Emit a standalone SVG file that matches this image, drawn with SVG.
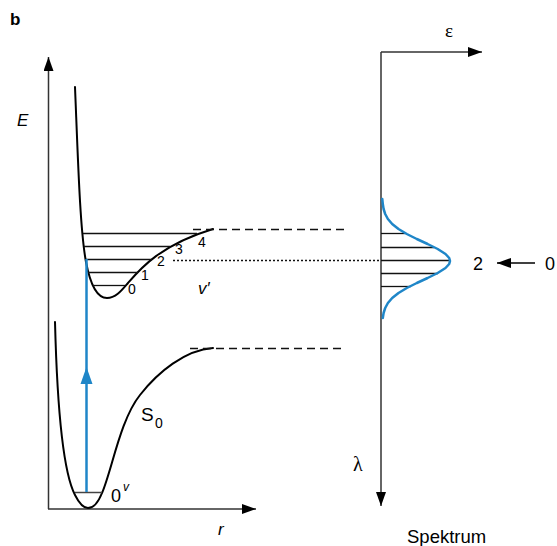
<svg xmlns="http://www.w3.org/2000/svg" width="557" height="546" viewBox="0 0 557 546">
<defs>
<style>
.ax{stroke:#333;stroke-width:1.5;fill:none}
.cv{stroke:#000;stroke-width:2;fill:none;stroke-linecap:round}
.lv{stroke:#111;stroke-width:1.3}
.bl{stroke:#1f86c8;stroke-width:2.5;fill:none}
.dash{stroke:#111;stroke-width:1.3;stroke-dasharray:8,5}
.dot{stroke:#111;stroke-width:1.3;stroke-dasharray:2,2}
.t{font-family:"Liberation Sans",Arial,sans-serif;fill:#000}
.s{font-family:"Liberation Serif","Times New Roman",serif;fill:#000}
</style>
<marker id="ah" markerWidth="14" markerHeight="10" refX="14" refY="5" orient="auto" markerUnits="userSpaceOnUse">
<path d="M0,0 L14,5 L0,10 Z" fill="#000"/>
</marker>
</defs>

<text class="t" x="10" y="25" font-size="17" font-weight="bold">b</text>

<g id="axes">
<line class="ax" x1="48.5" y1="509" x2="48.5" y2="57" marker-end="url(#ah)"/>
<line class="ax" x1="48" y1="509" x2="256" y2="509" marker-end="url(#ah)"/>
<text class="t" x="17" y="126" font-size="17" font-style="italic">E</text>
<text class="t" x="218" y="535" font-size="17" font-style="italic">r</text>
</g>

<g id="excited-state">
<path class="cv" d="M75,87 C78,160 80,230 86,262 C90,283 97,298 107,298 C116,298 122,290 128,283 C140,269 160,245 213,229"/>
<line class="lv" x1="83" y1="233.5" x2="197" y2="233.5"/>
<line class="lv" x1="84" y1="246.5" x2="170" y2="246.5"/>
<line class="lv" x1="86" y1="259.5" x2="152" y2="259.5"/>
<line class="lv" x1="88" y1="272.5" x2="138" y2="272.5"/>
<line class="lv" x1="93" y1="285.5" x2="125" y2="285.5"/>
<text class="t" x="128" y="294" font-size="14">0</text>
<text class="t" x="141" y="280" font-size="14">1</text>
<text class="t" x="157" y="266" font-size="14">2</text>
<text class="t" x="175" y="254" font-size="14">3</text>
<text class="t" x="198" y="247" font-size="14">4</text>
<text class="t" x="198" y="294" font-size="17" font-style="italic">v′</text>
</g>

<g id="ground-state">
<path class="cv" d="M55,322 C57,400 62,470 75,495 C80,505 84,508 88,508 C94,508 98,503 102,493 C112,470 120,420 140,395 C158,372 185,350 213,348"/>
<line x1="75" y1="492.5" x2="102" y2="492.5" stroke="#444" stroke-width="1.5"/>
<text class="t" x="111" y="502" font-size="18">0</text>
<text class="t" x="123" y="491" font-size="12" font-style="italic">v</text>
<text class="t" x="141" y="421" font-size="19">S</text>
<text class="t" x="155" y="428" font-size="14">0</text>
</g>

<g id="connectors">
<line class="bl" x1="86.5" y1="492" x2="86.5" y2="259"/>
<path d="M86.5,367 L80.5,384 L92.5,384 Z" fill="#1f86c8"/>
<line class="dash" x1="193" y1="229.5" x2="347" y2="229.5"/>
<line class="dash" x1="190" y1="348.5" x2="345" y2="348.5"/>
<line class="dot" x1="173" y1="260.5" x2="381" y2="260.5"/>
<line stroke="#000" stroke-width="1.5" x1="535" y1="263" x2="497" y2="263" marker-end="url(#ah)"/>
</g>

<g id="spectrum">
<line class="ax" x1="381" y1="52" x2="381" y2="506" marker-end="url(#ah)"/>
<line class="ax" x1="381" y1="52" x2="482" y2="52" marker-end="url(#ah)"/>
<text class="s" x="445" y="37" font-size="19">ε</text>
<text class="s" x="353" y="471" font-size="20">λ</text>
<text class="t" x="407" y="543" font-size="18.5">Spektrum</text>
<line class="lv" x1="381" y1="233.5" x2="405" y2="233.5"/>
<line class="lv" x1="381" y1="247.5" x2="434" y2="247.5"/>
<line class="lv" x1="381" y1="260.5" x2="450" y2="260.5"/>
<line class="lv" x1="381" y1="273.5" x2="438" y2="273.5"/>
<line class="lv" x1="381" y1="286.5" x2="411" y2="286.5"/>
<polyline class="bl" stroke-linejoin="round" stroke-linecap="round" points="382.3,199 382.8,204 383.6,209 385.2,214 387.9,219 392.2,224 398.5,229 406.8,234 416.8,239 427.6,244 437.7,249 445.5,254 449.2,258 450,261 449.2,264 445.5,268 437.7,273 427.6,278 416.8,283 406.8,288 398.5,293 392.2,298 387.9,303 385.2,308 383.6,313 382.8,318"/>
<text class="t" x="473" y="270" font-size="18">2</text>
<text class="t" x="545" y="270" font-size="18">0</text>
</g>
</svg>
